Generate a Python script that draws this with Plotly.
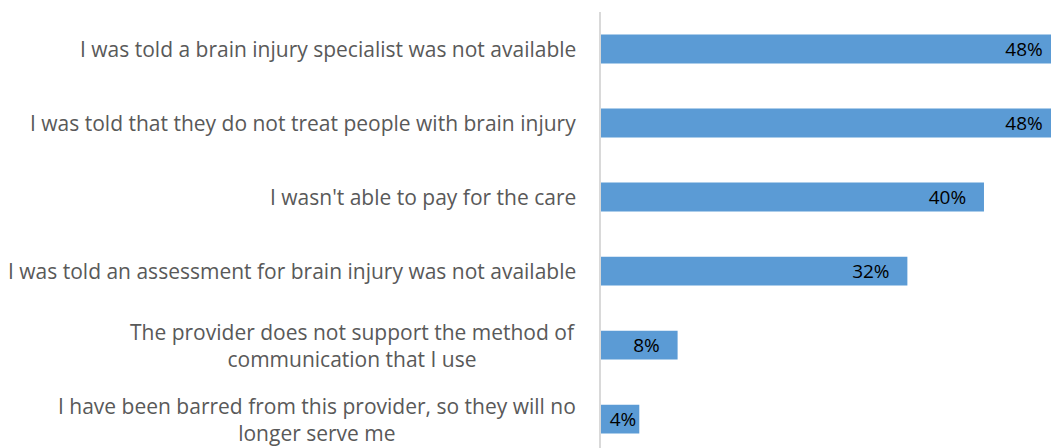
import plotly.graph_objects as go

# categories top to bottom
categorias = [
    "I was told a brain injury specialist was not available",
    "I was told that they do not treat people with brain injury",
    "I wasn't able to pay for the care",
    "I was told an assessment for brain injury was not available",
    "The provider does not support the method of<br>communication that I use",
    "I have been barred from this provider, so they will no<br>longer serve me",
]
porcentajes = [48, 48, 40, 32, 8, 4]

# extra space to the right of each bar label (the smallest bar has no room)
relleno = [3, 3, 3, 3, 3, 0]

fuente = "Open Sans"
ids = list(range(len(categorias)))
etiquetas = [f"{v}%" + "&nbsp;" * n for v, n in zip(porcentajes, relleno)]

fig = go.Figure()

fig.add_trace(go.Bar(
    x=porcentajes,
    y=ids,
    orientation="h",
    width=0.39,
    marker=dict(color="#5b9bd5", line=dict(width=0)),
    text=etiquetas,
    texttemplate="%{text}",
    textposition="inside",
    insidetextanchor="end",
    textfont=dict(family=fuente, size=19, color="#000000"),
    hoverinfo="skip",
))

# category labels as annotations so the two-line ones are centred
for i, c in zip(ids, categorias):
    fig.add_annotation(
        x=0, xref="paper", y=i, yref="y",
        text=c, showarrow=False,
        xanchor="right", yanchor="middle", align="center",
        xshift=-23,
        font=dict(family=fuente, size=21, color="#595959"),
    )

fig.update_layout(
    width=1051,
    height=448,
    margin=dict(l=601, r=0, t=12, b=0, pad=0),
    plot_bgcolor="#fff",
    paper_bgcolor="#fff",
    showlegend=False,
    uniformtext=dict(minsize=19, mode="show"),
)

fig.update_xaxes(range=[0, 47], visible=False, showgrid=False, zeroline=False)
fig.update_yaxes(
    range=[5.39, -0.5],
    showticklabels=False,
    showgrid=False,
    zeroline=False,
    showline=True,
    linecolor="#d9d9d9",
    linewidth=2,
    ticks="",
)

# drop the default page margin so the figure fills the window exactly
fig.write_html(
    "out.html",
    config={"displayModeBar": False},
    post_script="document.body.style.margin='0';document.body.style.overflow='hidden';",
)
